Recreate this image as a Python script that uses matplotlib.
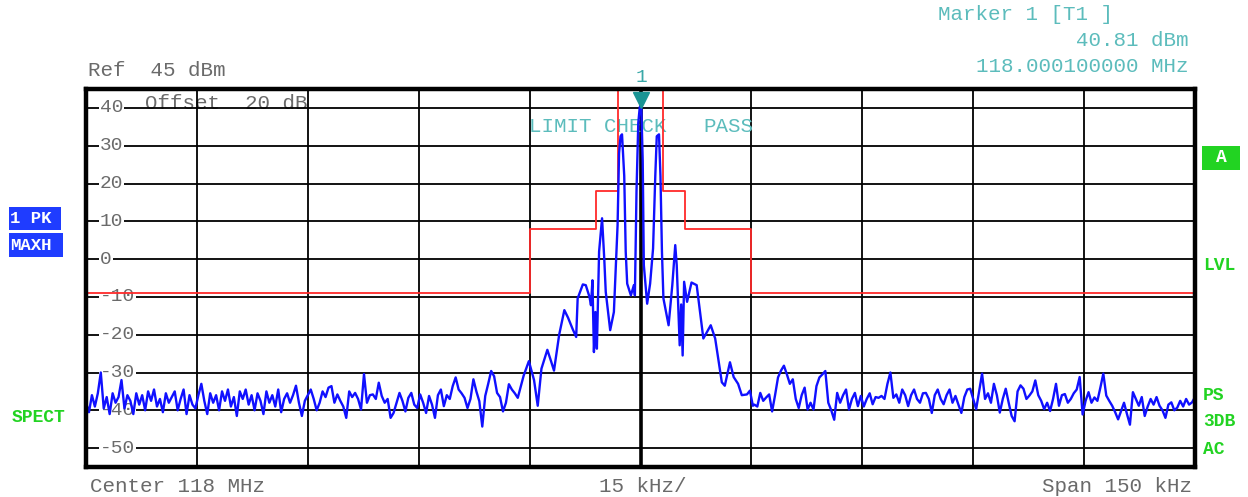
import numpy as np
import matplotlib
matplotlib.use("Agg")
import matplotlib.pyplot as plt
from matplotlib.patches import Rectangle
from matplotlib.transforms import offset_copy

W, H = 1248, 497

# trace: offset from 118 MHz centre in kHz, level in dBm (max hold)
left_khz = np.linspace(-75, -16.6, 147)
left_dbm = [-38, -40.5, -36, -39, -35.5, -30, -39.5, -36.5, -41, -35.5,
            -38, -36.5, -32, -39.5, -36, -37.5, -41, -35.5, -38.5, -36,
            -40, -35, -37.5, -34.5, -39, -37, -40.5, -35.5, -38, -36.5,
            -35, -40, -37, -34.5, -41, -36, -38.5, -39.5, -36, -33,
            -37.5, -41, -35.5, -38, -36, -40, -35, -37.5, -34.5, -39,
            -36.5, -41.5, -35, -37, -34.5, -38.5, -36, -40, -35.5, -37.5,
            -41, -35, -38, -36, -39, -34.5, -40.5, -37, -35.5, -38,
            -36, -33.5, -38, -41.5, -37.5, -36, -34.5, -37, -40, -38,
            -35, -36.5, -34, -33.6, -38, -35.8, -37.5, -39, -42, -35,
            -36.5, -35.4, -37, -39.8, -30.4, -38, -36, -35.8, -37, -32.7,
            -36.2, -38, -37, -42, -40.7, -38, -35.4, -37.5, -40.3, -36.7,
            -35.4, -38.5, -39.4, -35.8, -38, -40.7, -36.2, -38.5, -42, -36,
            -34.5, -38.9, -36, -37, -33.6, -31.3, -34.5, -35.5, -36.7, -39.4,
            -37, -31.8, -35, -37.6, -44.3, -36.2, -33, -29.6, -31, -35.4,
            -36.5, -40.3, -38, -33.1, -34.5, -35.5, -36.7]

mid_khz = [-15.8, -15.1, -14.4, -13.9, -13.4, -12.6, -12.1, -11.7, -11.0, -10.3,
           -9.8, -9.2, -8.7, -8.5, -7.8, -7.4, -6.9, -6.7, -6.5, -6.3,
           -6.1, -5.9, -5.6, -5.2, -4.9, -4.7, -4.1, -3.6, -3.1, -2.9,
           -2.7, -2.5, -2.2, -2.0, -1.8, -1.3, -0.9, -0.76, -0.54, -0.3,
           -0.1, 0.1, 0.3, 0.45, 0.9, 1.3, 1.7, 2.0, 2.2, 2.5,
           2.7, 2.9, 3.1, 3.8, 4.3, 4.7, 4.9, 5.3, 5.5, 5.7,
           5.9, 6.3, 6.9, 7.6, 8.5, 9.5, 10.1, 11.0, 11.4, 12.1,
           12.6, 13.2, 13.7, 14.4, 14.8, 15.2]
mid_dbm = [-30.8, -27, -32, -38.8, -29, -24, -27, -29.5, -20, -13.5,
           -15.5, -18.4, -20.6, -10.4, -6.7, -6.9, -10, -12.2, -5.6, -24.6,
           -14, -23.7, 2, 10.8, 0, -8.7, -18.8, -14, 9, 28,
           32.5, 33, 22, 2, -6.5, -9.6, -6.9, -9.6, 18, 36,
           40.2, 40.81, 26, -1.6, -11.8, -6.5, 2.8, 22, 32.5, 33,
           22, 2, -10.4, -17.5, -6.9, 3.7, -1.6, -22.8, -12, -25.5,
           -6, -11.3, -6.2, -6.9, -21, -17.5, -21, -32.6, -33.5, -27.3,
           -31.2, -33, -36, -35.8, -34.8, -38.8]

right_khz = np.linspace(15.4, 75, 150)
right_dbm = [-38.5, -39, -35.4, -37.5, -36.6, -35.8, -40.3, -36, -31.3, -29.5,
             -28.2, -30.5, -33, -31.8, -37, -39.4, -36, -34, -39.8, -38,
             -39.8, -33.6, -31.3, -30.5, -29.6, -38, -40, -42.5, -35.4, -38,
             -36, -34.5, -39.8, -37, -35.4, -38.9, -36.2, -39, -37, -35.5,
             -38.4, -36.5, -36.7, -36.2, -37, -33, -30, -36.7, -35.8, -38,
             -34.5, -36, -38.9, -36, -34.5, -37, -38, -35.5, -35.4, -37,
             -40.7, -36, -34.5, -37, -38.4, -36, -34.5, -38, -36.2, -38.5,
             -40.7, -36.5, -34.5, -34.3, -37, -39.7, -35, -30.3, -37, -35.5,
             -38, -33, -36, -40.6, -37, -34.3, -38, -41.5, -42.9, -35,
             -33.4, -34.3, -37, -36.1, -35, -32.1, -36, -37.5, -39.7, -38,
             -40.2, -37, -33, -38.8, -36, -35.7, -38, -37, -35.5, -34.5,
             -31.2, -41.1, -37.5, -35.2, -38, -36.6, -37.5, -34, -30.3, -36.1,
             -37.5, -38.8, -40.5, -42.4, -40.2, -38, -41, -43.8, -35.2, -37,
             -38.8, -36.5, -41.5, -39, -37, -38.5, -36.5, -38.8, -40, -42,
             -38.5, -37.9, -40, -39.3, -37.5, -39, -37, -38.5, -37.9, -36.5]

# limit line corners
limit_khz = [-75, -15, -15, -6, -6, -3, -3, 3, 3, 6, 6, 15, 15, 75]
limit_dbm = [-9, -9, 8, 8, 18, 18, 50, 50, 18, 18, 8, 8, -9, -9]

marker_khz = 0.1
marker_dbm = 40.81

y_ticks = [40, 30, 20, 10, 0, -10, -20, -30, -40, -50]
x_grid = [-75, -60, -45, -30, -15, 0, 15, 30, 45, 60, 75]

freq = np.concatenate([left_khz, mid_khz, right_khz])
level = np.concatenate([left_dbm, mid_dbm, right_dbm])

MONO = "Liberation Mono"
GRAY = "#6a6a6a"
TEAL = "#5cbcbc"
GREEN = "#22d322"
FS = 15

fig = plt.figure(figsize=(W / 100, H / 100), dpi=100)
ax = fig.add_axes([86 / W, 1 - 467 / H, (1195 - 86) / W, (467 - 89) / H])
ax.set_xlim(-75, 75)
ax.set_ylim(-55, 45)
ax.set_xticks([])
ax.set_yticks([])
for s in ax.spines.values():
    s.set_linewidth(3.2)
    s.set_zorder(6)

for x in x_grid:
    ax.axvline(x, color="black", lw=2.6 if x == 0 else 1.3, zorder=1)
for y in y_ticks:
    ax.axhline(y, color="black", lw=1.3, zorder=1)
    ax.text(-73.1, y, str(y), ha="left", va="center", fontsize=14,
            family=MONO, color=GRAY, zorder=2,
            bbox=dict(fc="white", ec="none", pad=0.6))

ax.text(-67.0, 41.2, "Offset  20 dB", ha="left", va="center", fontsize=FS,
        family=MONO, color=GRAY, zorder=0.5)
ax.text(-15.1, 35.0, "LIMIT CHECK", ha="left", va="center", fontsize=FS,
        family=MONO, color=TEAL, zorder=2)
ax.text(8.5, 35.0, "PASS", ha="left", va="center", fontsize=FS,
        family=MONO, color=TEAL, zorder=2)

ax.plot(limit_khz, limit_dbm, color="#ff2a2a", lw=1.3, zorder=3)
ax.plot(freq, level, color="#1010ff", lw=1.7, zorder=4)

tri = offset_copy(ax.transData, fig=fig, x=0, y=5, units="dots")
ax.plot([marker_khz], [marker_dbm], marker="v", ms=11, color="#1a9494",
        mec="#1a9494", transform=tri, clip_on=False, zorder=7)
lab = offset_copy(ax.transData, fig=fig, x=0, y=27, units="dots")
ax.text(marker_khz, marker_dbm, "1", transform=lab, ha="center", va="center",
        fontsize=14, family=MONO, color="#3aa8a8", clip_on=False)


def fx(x):
    return x / W


def fy(y):
    return 1 - y / H


fig.text(fx(938), fy(15), "Marker 1 [T1 ]", ha="left", va="center",
         fontsize=FS, family=MONO, color=TEAL)
fig.text(fx(1188), fy(41), "40.81 dBm", ha="right", va="center",
         fontsize=FS, family=MONO, color=TEAL)
fig.text(fx(1188), fy(67), "118.000100000 MHz", ha="right", va="center",
         fontsize=FS, family=MONO, color=TEAL)
fig.text(fx(88), fy(70), "Ref  45 dBm", ha="left", va="center",
         fontsize=FS, family=MONO, color=GRAY)

fig.text(fx(90), fy(486), "Center 118 MHz", ha="left", va="center",
         fontsize=FS, family=MONO, color=GRAY)
fig.text(fx(643), fy(486), "15 kHz/", ha="center", va="center",
         fontsize=FS, family=MONO, color=GRAY)
fig.text(fx(1192), fy(486), "Span 150 kHz", ha="right", va="center",
         fontsize=FS, family=MONO, color=GRAY)

# blue trace boxes on the left
for label, y0, y1, x1 in [("1 PK", 207, 230, 61), ("MAXH", 233, 257, 63)]:
    fig.patches.append(Rectangle((fx(9), fy(y1)), fx(x1 - 9), (y1 - y0) / H,
                                 transform=fig.transFigure, fc="#1f3cff", ec="none"))
    fig.text(fx(10), fy((y0 + y1) / 2), label, ha="left", va="center",
             fontsize=12.5, family=MONO, weight="bold", color="white")

fig.text(fx(12), fy(418), "SPECT", ha="left", va="center", fontsize=13,
         family=MONO, weight="bold", color=GREEN)

# green status labels on the right
fig.patches.append(Rectangle((fx(1202), fy(170)), fx(38), 24 / H,
                             transform=fig.transFigure, fc=GREEN, ec="none"))
fig.text(fx(1221), fy(158), "A", ha="center", va="center", fontsize=13,
         family=MONO, weight="bold", color="white")
for label, y in [("LVL", 265), ("PS", 396), ("3DB", 422), ("AC", 450)]:
    fig.text(fx(1203), fy(y), label, ha="left", va="center", fontsize=13,
             family=MONO, weight="bold", color=GREEN)

fig.savefig("out.png", dpi=100)
